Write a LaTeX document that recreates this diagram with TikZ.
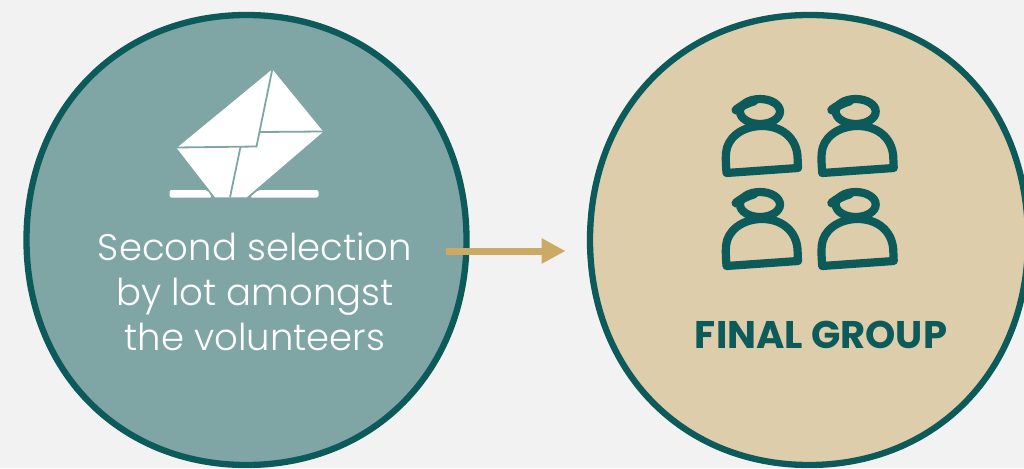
\documentclass[tikz,border=0pt]{standalone}
\usepackage{fontspec}
\setmainfont{Poppins}[UprightFont=* Light]
\newfontfamily\boldf{Poppins}[UprightFont=* Bold]
\usetikzlibrary{arrows.meta}
\definecolor{bgc}{HTML}{F2F2F2}
\definecolor{tealc}{HTML}{0C5A5A}
\definecolor{sagec}{HTML}{7FA5A5}
\definecolor{sandc}{HTML}{DDCDAB}
\definecolor{goldc}{HTML}{CCA964}
\tikzset{
  x=1pt,y=-1pt,
  disc/.style={line width=6.3pt,draw=tealc},
  envfold/.style={draw=sagec,line width=1.8pt},
  lbl/.style={align=center,text=white,font=\fontsize{37}{45}\selectfont},
  person/.pic={
    \draw[tealc,line width=8.2pt,line cap=round,line join=round]
      (26.5,93) .. controls (26,85) and (25.5,80) .. (26,73)
      .. controls (27,58) and (42,46) .. (62,46)
      .. controls (82,46) and (96,58) .. (97.5,76)
      -- (98,88) -- cycle;
    \draw[tealc,line width=8.2pt] (60,31.5) ellipse [x radius=20,y radius=12.5];
    \draw[tealc,line width=9pt,line cap=round] (36,30) .. controls (41,26) and (47,23) .. (54,21);
  }
}
\begin{document}
\begin{tikzpicture}
\useasboundingbox (0,0) rectangle (1024,468);
\fill[bgc] (0,0) rectangle (1024,468);
% left disc
\fill[sagec,disc] (26.5,240) .. controls (26.5,109.5) and (118.9,15) .. (246.5,15)
  .. controls (374.1,15) and (466.5,109.5) .. (466.5,240)
  .. controls (466.5,370.5) and (374.1,465) .. (246.5,465)
  .. controls (118.9,465) and (26.5,370.5) .. (26.5,240) -- cycle;
% right disc
\fill[sandc,disc] (590,240) .. controls (590,109.5) and (682,15) .. (809,15)
  .. controls (945,15) and (1028,109.5) .. (1028,240)
  .. controls (1028,370.5) and (936,465) .. (809,465)
  .. controls (682,465) and (590,370.5) .. (590,240) -- cycle;
% envelope
\fill[white] (272.3,69.3) -- (323.3,131.7) -- (246.7,197.3) -- (215,197.3) -- (176.7,148) -- cycle;
\draw[envfold] (272.3,69.3) -- (256.5,146.5) -- (176.7,147.5);
\draw[envfold] (260,132) -- (323.3,131.5);
\draw[envfold] (240.5,147) -- (230,197.3);
\fill[white,rounded corners=2pt] (169.5,190) -- (207.3,190) -- (212,197.5) -- (169.5,197.5) -- cycle;
\fill[white,rounded corners=2pt] (258.3,190) -- (318.5,190) -- (318.5,197.5) -- (250,197.5) -- cycle;
\node[lbl] (t1) at (255,291.5) {Second selection\\by lot amongst\\the volunteers};
\node[text=tealc,font=\boldf\fontsize{38.5}{42}\selectfont] (t2) at (821,335) {FINAL GROUP};
\pic at (700,80) {person};
\pic at (795.7,80) {person};
\pic at (700,173) {person};
\pic at (795.7,173) {person};
\coordinate (a) at (445.5,251);
\coordinate (b) at (565.5,251);
\draw[goldc,line width=7pt,-{Triangle[length=24pt,width=24pt]}] (a) -- (b);
\end{tikzpicture}
\end{document}
